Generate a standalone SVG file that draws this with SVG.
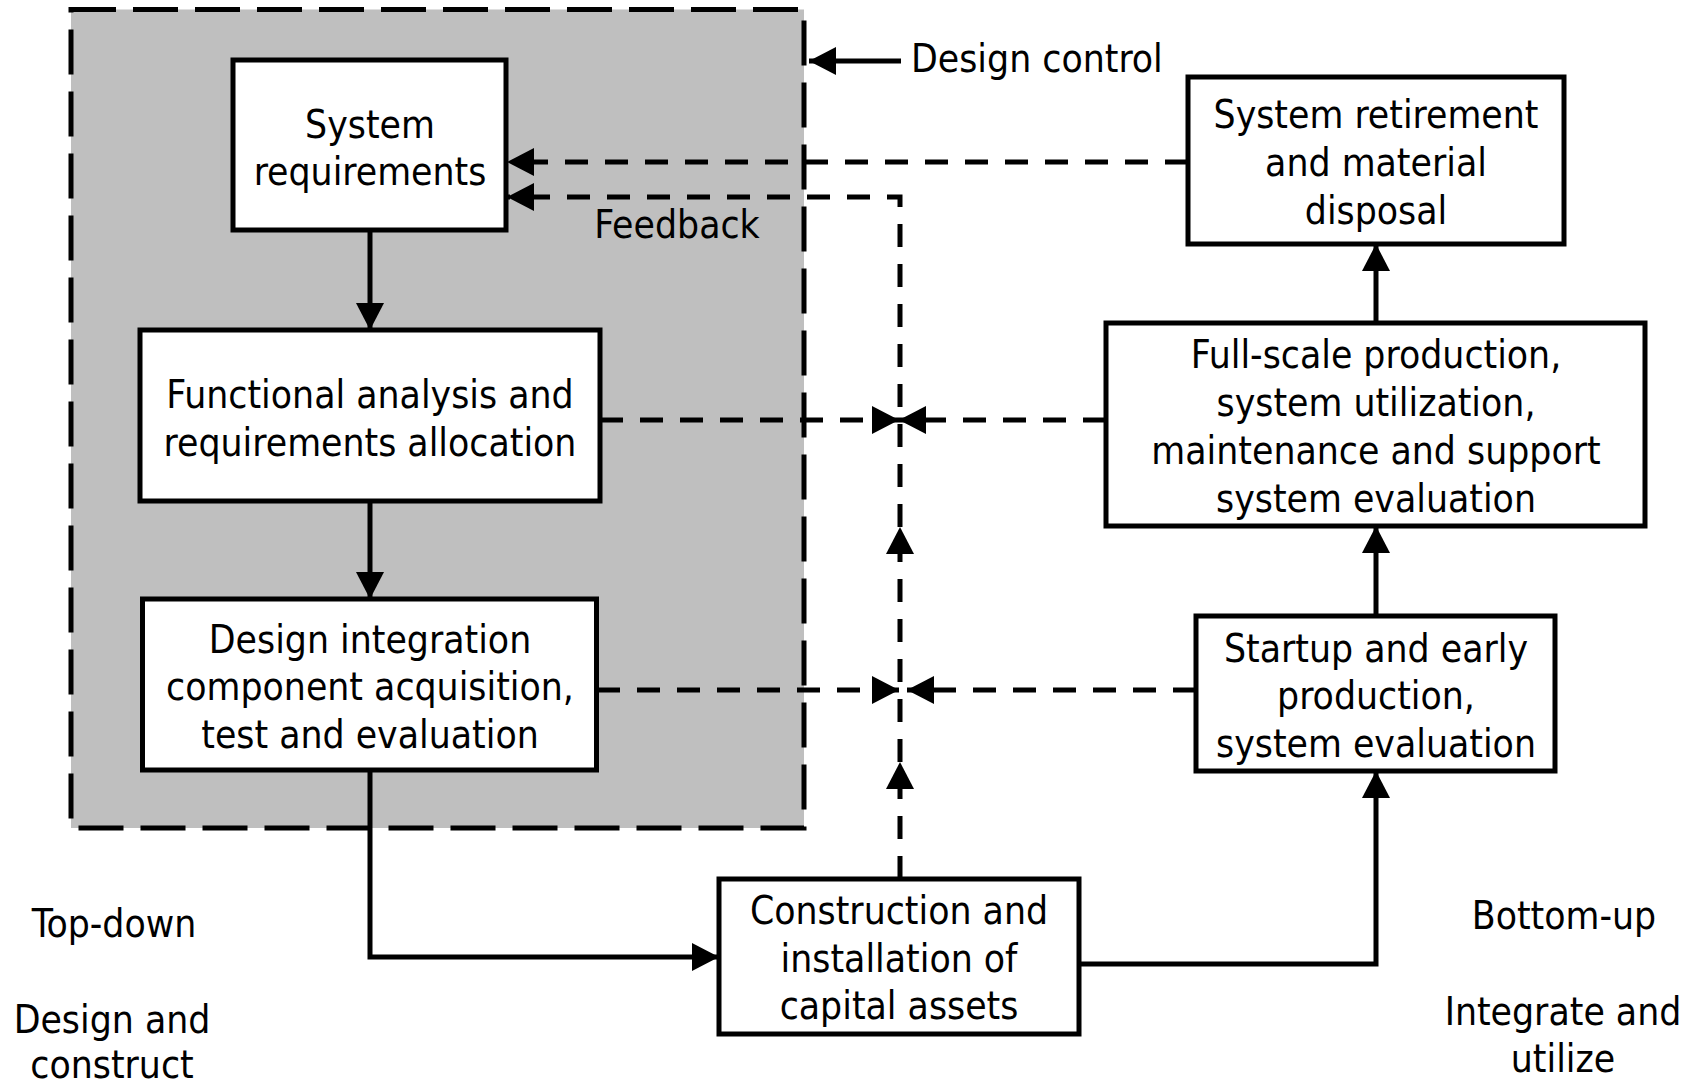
<svg xmlns="http://www.w3.org/2000/svg" width="1696" height="1085" viewBox="0 0 1696 1085">
<defs>
<marker id="ah" markerUnits="userSpaceOnUse" markerWidth="28" markerHeight="28" refX="27" refY="14" orient="auto" viewBox="0 0 28 28">
<path d="M0,0 L27,14 L0,28 z" fill="#000"/>
</marker>
</defs>
<style>
text{font-family:"DejaVu Sans Condensed","DejaVu Sans",sans-serif;font-stretch:condensed;font-size:38.7px;fill:#000;text-anchor:middle}
.box{fill:#fff;stroke:#000;stroke-width:5}
.sol{fill:none;stroke:#000;stroke-width:5;marker-end:url(#ah)}
.dsh{fill:none;stroke:#000;stroke-width:5;stroke-dasharray:23 17;marker-end:url(#ah)}
.lbl{text-anchor:start}
</style>
<g id="design-control-area">
<rect x="71" y="9.5" width="733" height="818.5" fill="#bfbfbf" stroke="#000" stroke-width="5" stroke-dasharray="45 17"/>
</g>
<g id="connectors">
<path class="sol" d="M370,231 L370,330"/>
<path class="sol" d="M370,501 L370,599"/>
<path class="sol" d="M370,771 L370,957 L719,957"/>
<path class="sol" d="M1079,964 L1376,964 L1376,771"/>
<path class="sol" d="M1376,616 L1376,526"/>
<path class="sol" d="M1376,323 L1376,244"/>
<path class="sol" d="M901,61 L809,61"/>
<path class="dsh" d="M1188,162 L507,162"/>
<path class="dsh" d="M900,879 L900,762"/>
<path class="dsh" d="M900,762 L900,527"/>
<path class="dsh" d="M900,527 L900,197 L507,197"/>
<path class="dsh" d="M600,420 L899,420"/>
<path class="dsh" d="M1106,420 L899,420"/>
<path class="dsh" d="M597,690 L899,690"/>
<path class="dsh" d="M1196,690 L907,690"/>
</g>
<g id="system-requirements">
<rect class="box" x="233" y="60" width="273" height="170"/>
<text x="370" y="138">System</text>
<text x="370" y="185">requirements</text>
</g>
<g id="functional-analysis">
<rect class="box" x="140" y="330" width="460" height="171"/>
<text x="370" y="408">Functional analysis and</text>
<text x="370" y="456">requirements allocation</text>
</g>
<g id="design-integration">
<rect class="box" x="142.5" y="599" width="454" height="171"/>
<text x="370" y="653">Design integration</text>
<text x="370" y="700">component acquisition,</text>
<text x="370" y="748">test and evaluation</text>
</g>
<g id="system-retirement">
<rect class="box" x="1188" y="77" width="376" height="167"/>
<text x="1376" y="128">System retirement</text>
<text x="1376" y="176">and material</text>
<text x="1376" y="224">disposal</text>
</g>
<g id="full-scale-production">
<rect class="box" x="1106" y="323" width="539" height="203"/>
<text x="1376" y="368">Full-scale production,</text>
<text x="1376" y="416">system utilization,</text>
<text x="1376" y="464">maintenance and support</text>
<text x="1376" y="512">system evaluation</text>
</g>
<g id="startup">
<rect class="box" x="1196" y="616" width="359" height="155"/>
<text x="1376" y="662">Startup and early</text>
<text x="1376" y="709">production,</text>
<text x="1376" y="757">system evaluation</text>
</g>
<g id="construction">
<rect class="box" x="719" y="879" width="360" height="155"/>
<text x="899" y="924">Construction and</text>
<text x="899" y="972">installation of</text>
<text x="899" y="1019">capital assets</text>
</g>
<g id="labels">
<text class="lbl" x="911" y="72">Design control</text>
<text x="677" y="238">Feedback</text>
<text x="114" y="937">Top-down</text>
<text x="112" y="1033">Design and</text>
<text x="112" y="1078">construct</text>
<text x="1564" y="929">Bottom-up</text>
<text x="1563" y="1025">Integrate and</text>
<text x="1563" y="1072">utilize</text>
</g>
</svg>
